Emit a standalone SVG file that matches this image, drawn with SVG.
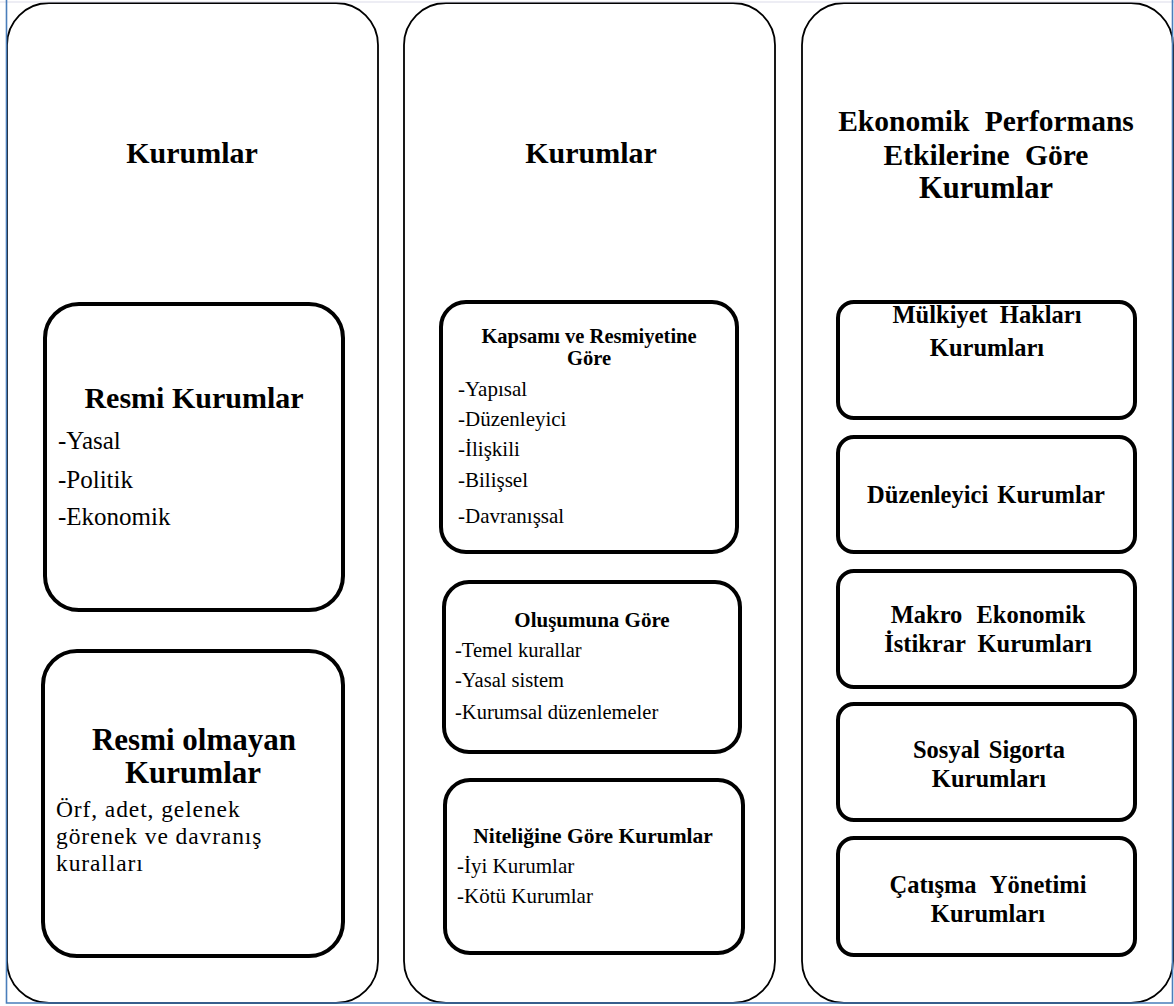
<svg xmlns="http://www.w3.org/2000/svg" width="1174" height="1006" viewBox="0 0 1174 1006">
  <style>
    .col { fill: #ffffff; stroke: #000000; stroke-width: 1.8; }
    .box { fill: #ffffff; stroke: #000000; stroke-width: 4; }
    .t { font-family: 'Liberation Serif', 'Times New Roman', Times, serif; fill: #000000; }
    .b { font-weight: bold; }
    .c { text-anchor: middle; }
    .frame { stroke: #4a7ebb; stroke-width: 1.6; fill: none; }
  </style>

  <rect x="0" y="0" width="1174" height="1006" fill="#ffffff"/>

  <!-- column 1 -->
  <g id="col-kurumlar-1">
    <rect class="col" x="7" y="3" width="371" height="1000" rx="42" ry="42"/>
    <text class="t b c" x="192" y="163" font-size="30">Kurumlar</text>
  </g>
  <g id="box-resmi">
    <rect class="box" x="45" y="304" width="298" height="306" rx="34" ry="34"/>
    <text class="t b c" x="194" y="408" font-size="30">Resmi Kurumlar</text>
    <text class="t" x="58" y="449" font-size="25">-Yasal</text>
    <text class="t" x="58" y="488" font-size="25">-Politik</text>
    <text class="t" x="58" y="525" font-size="25">-Ekonomik</text>
  </g>
  <g id="box-resmi-olmayan">
    <rect class="box" x="43" y="651" width="300" height="305" rx="34" ry="34"/>
    <text class="t b c" x="194" y="750" font-size="31">Resmi olmayan</text>
    <text class="t b c" x="193" y="783" font-size="31">Kurumlar</text>
    <text class="t" x="56" y="817" font-size="23.5" letter-spacing="0.9">Örf, adet, gelenek</text>
    <text class="t" x="56" y="844" font-size="23.5" letter-spacing="0.9">görenek ve davranış</text>
    <text class="t" x="56" y="871" font-size="23.5" letter-spacing="0.9">kuralları</text>
  </g>

  <!-- column 2 -->
  <g id="col-kurumlar-2">
    <rect class="col" x="404" y="3" width="371" height="1000" rx="42" ry="42"/>
    <text class="t b c" x="591" y="163" font-size="30">Kurumlar</text>
  </g>
  <g id="box-kapsami">
    <rect class="box" x="441" y="302" width="296" height="250" rx="25" ry="25"/>
    <text class="t b c" x="589" y="343" font-size="20.5">Kapsamı ve Resmiyetine</text>
    <text class="t b c" x="589" y="365" font-size="20.5">Göre</text>
    <text class="t" x="458" y="396" font-size="21">-Yapısal</text>
    <text class="t" x="458" y="426" font-size="21">-Düzenleyici</text>
    <text class="t" x="458" y="456" font-size="21">-İlişkili</text>
    <text class="t" x="458" y="487" font-size="21">-Bilişsel</text>
    <text class="t" x="458" y="523" font-size="21">-Davranışsal</text>
  </g>
  <g id="box-olusumuna">
    <rect class="box" x="444" y="582" width="296" height="170" rx="25" ry="25"/>
    <text class="t b c" x="592" y="627" font-size="21">Oluşumuna Göre</text>
    <text class="t" x="455" y="657" font-size="20.5">-Temel kurallar</text>
    <text class="t" x="455" y="687" font-size="20.5">-Yasal sistem</text>
    <text class="t" x="455" y="719" font-size="20.5">-Kurumsal düzenlemeler</text>
  </g>
  <g id="box-niteligine">
    <rect class="box" x="445" y="780" width="298" height="173" rx="25" ry="25"/>
    <text class="t b c" x="593" y="843" font-size="21.5">Niteliğine Göre Kurumlar</text>
    <text class="t" x="457" y="873" font-size="21">-İyi Kurumlar</text>
    <text class="t" x="457" y="903" font-size="21">-Kötü Kurumlar</text>
  </g>

  <!-- column 3 -->
  <g id="col-ekonomik-performans">
    <rect class="col" x="802" y="3" width="371" height="1000" rx="42" ry="42"/>
    <text class="t b c" x="986" y="131" font-size="29.5" word-spacing="8">Ekonomik Performans</text>
    <text class="t b c" x="986" y="165" font-size="29.5" word-spacing="8">Etkilerine Göre</text>
    <text class="t b c" x="986" y="198" font-size="30.5">Kurumlar</text>
  </g>
  <g id="box-mulkiyet">
    <rect class="box" x="838" y="302" width="297" height="116" rx="16" ry="16"/>
    <text class="t b c" x="987" y="323" font-size="24.5" word-spacing="6">Mülkiyet Hakları</text>
    <text class="t b c" x="987" y="356" font-size="24.5">Kurumları</text>
  </g>
  <g id="box-duzenleyici">
    <rect class="box" x="838" y="437" width="297" height="115" rx="16" ry="16"/>
    <text class="t b c" x="986" y="503" font-size="24.5" word-spacing="3">Düzenleyici Kurumlar</text>
  </g>
  <g id="box-makro">
    <rect class="box" x="838" y="571" width="297" height="116" rx="16" ry="16"/>
    <text class="t b c" x="988" y="623" font-size="24.5" word-spacing="8">Makro Ekonomik</text>
    <text class="t b c" x="988" y="652" font-size="24.5" word-spacing="6">İstikrar Kurumları</text>
  </g>
  <g id="box-sosyal">
    <rect class="box" x="838" y="704" width="297" height="116" rx="16" ry="16"/>
    <text class="t b c" x="989" y="758" font-size="24.5" word-spacing="3">Sosyal Sigorta</text>
    <text class="t b c" x="989" y="787" font-size="24.5">Kurumları</text>
  </g>
  <g id="box-catisma">
    <rect class="box" x="838" y="838" width="297" height="117" rx="16" ry="16"/>
    <text class="t b c" x="988" y="893" font-size="24.5" word-spacing="8">Çatışma Yönetimi</text>
    <text class="t b c" x="988" y="922" font-size="24.5">Kurumları</text>
  </g>

  <!-- page frame -->
  <line x1="0" y1="2" x2="1174" y2="2" stroke="#dcdcea" stroke-width="1.2"/>
  <path class="frame" d="M6.5 0 V1003 H1172.5 V0"/>
</svg>
